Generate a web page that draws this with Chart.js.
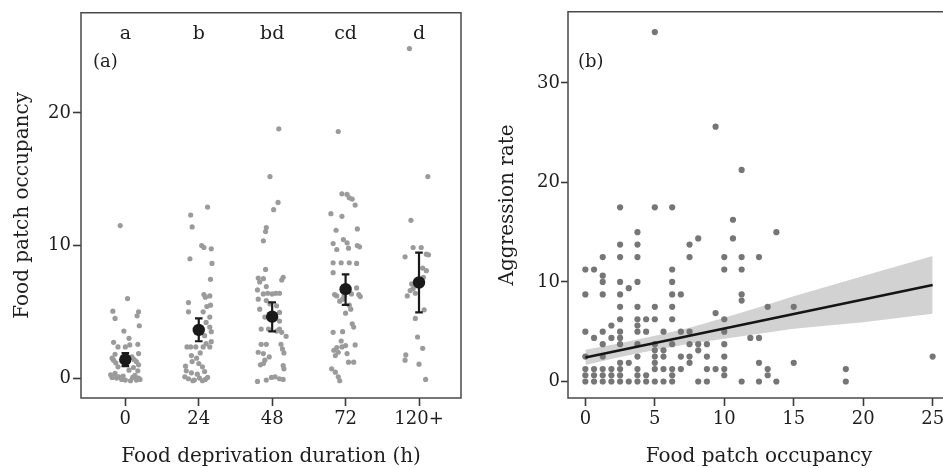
<!DOCTYPE html>
<html><head><meta charset="utf-8">
<script src="https://cdn.jsdelivr.net/npm/chart.js@4.4.0/dist/chart.umd.min.js"></script>
<style>
html,body{margin:0;padding:0;background:#fff;overflow:hidden;width:943px;height:468px;}
#ca{position:absolute;left:0;top:0;}
#cb{position:absolute;left:470px;top:0;}
</style></head><body>
<canvas id="ca" width="470" height="468"></canvas>
<canvas id="cb" width="490" height="468"></canvas>
<script>
// ---------- Panel (a) data ----------
const durationLabels = ['0', '24', '48', '72', '120+'];
const sigLetters = ['a', 'b', 'bd', 'cd', 'd'];
const occ0 = [11.5,6.0,5.05,5.0,4.7,4.5,3.95,3.55,3.0,2.7,2.35,2.35,2.5,2.55,1.85,1.8,1.35,1.15,1.25,1.0,1.6,0.85,0.6,0.25,0.35,0.15,0.05,0.0,-0.15,0.05,0.2,0.1,-0.2,-0.15,-0.1,-0.1,0.0,1.4,1.3,0.55,1.5,0.8];
const jit0 = [-0.07,0.03,-0.17,0.18,0.16,-0.14,0.19,-0.02,0.05,-0.16,-0.10,0.0,0.06,0.17,0.18,-0.14,-0.16,-0.13,0.15,0.18,0.09,-0.10,0.05,-0.20,-0.14,-0.03,0.10,0.18,0.0,-0.18,0.13,-0.09,0.07,0.15,-0.05,0.20,-0.12,0.12,-0.05,0.17,-0.18,0.11];
const occ24 = [12.9,12.3,11.4,10.0,9.85,9.75,9.0,8.65,7.45,6.3,6.2,6.1,5.7,5.5,5.4,5.0,5.0,4.6,4.2,3.85,3.5,3.2,2.75,2.35,2.35,2.35,2.35,2.35,2.6,1.9,1.7,1.5,1.25,1.1,0.9,0.85,0.5,0.55,0.4,0.1,-0.05,-0.15,0.0,-0.2,-0.1,0.3,0.05,-0.2];
const jit24 = [0.12,-0.11,-0.09,0.04,0.07,0.17,-0.12,0.18,0.16,0.07,0.15,0.09,-0.14,0.16,0.11,0.06,-0.14,0.15,0.10,0.15,0.17,0.08,0.17,-0.16,-0.11,-0.04,0.06,0.15,0.10,0.02,-0.10,-0.03,-0.09,0.0,-0.18,0.05,0.08,-0.17,-0.10,-0.19,-0.14,-0.06,0.01,0.05,0.09,-0.02,0.12,-0.08];
const occ48 = [18.8,15.2,13.25,12.7,11.35,11.05,10.35,8.2,7.55,7.5,7.6,7.4,7.25,6.9,6.65,6.35,6.4,6.35,6.4,6.4,5.95,5.85,5.6,5.45,5.2,4.95,4.6,4.3,3.7,3.7,3.7,3.55,3.45,3.15,2.55,2.55,1.95,1.85,2.2,1.9,1.35,1.1,1.6,0.95,0.7,-0.25,-0.15,0.05,0.1,-0.05,-0.1,1.0,2.55];
const jit48 = [0.09,-0.03,0.08,0.02,-0.08,-0.09,-0.12,-0.09,-0.19,-0.12,0.15,0.13,-0.17,-0.08,-0.20,-0.12,-0.06,0.0,0.05,0.10,-0.19,-0.08,-0.03,0.06,-0.17,0.10,-0.10,0.10,-0.05,-0.15,0.10,0.06,0.13,0.19,-0.15,-0.08,-0.19,-0.12,0.14,0.16,-0.10,-0.12,-0.04,0.15,0.16,-0.20,-0.08,-0.01,0.04,0.10,0.15,-0.16,0.12];
const occ72 = [18.6,13.9,13.85,13.6,13.5,13.05,12.4,12.2,11.25,11.15,10.15,10.45,10.2,9.8,10.0,9.9,9.7,8.7,8.7,8.7,8.65,7.95,6.3,6.2,6.2,6.35,6.8,6.3,6.15,5.8,5.5,5.95,4.9,3.45,3.5,4.1,3.85,2.5,2.3,2.1,1.95,2.35,2.45,1.85,1.7,1.2,1.2,0.7,0.45,0.1,-0.2,2.8,5.2];
const jit72 = [-0.10,-0.05,0.02,0.05,0.09,0.13,-0.20,-0.05,0.16,-0.13,-0.17,-0.03,0.02,0.04,0.16,0.19,-0.12,-0.17,-0.06,0.05,0.15,-0.17,-0.15,-0.12,-0.02,0.08,0.15,0.18,0.20,-0.08,0.05,-0.04,0.0,-0.17,-0.04,0.09,0.11,0.13,-0.12,-0.16,-0.10,-0.05,0.0,0.02,-0.14,0.04,0.11,-0.19,-0.14,-0.10,-0.08,-0.06,0.07];
const occ120 = [24.85,15.2,11.9,9.85,9.85,9.15,9.35,9.3,8.3,8.1,7.1,6.75,6.4,6.2,5.15,4.5,3.1,2.25,1.75,1.35,1.05,-0.1,6.6,7.6];
const jit120 = [-0.13,0.12,-0.11,-0.08,0.03,-0.19,0.10,0.13,0.05,0.10,-0.10,-0.08,-0.05,-0.16,0.07,-0.05,-0.02,0.05,-0.18,-0.19,0.0,0.09,-0.12,0.06];
const groupMeans = [1.4, 3.63, 4.63, 6.71, 7.21];
const groupLow = [0.9, 2.78, 3.53, 5.53, 4.96];
const groupHigh = [1.88, 4.5, 5.71, 7.83, 9.46];
const yTicksA = [0, 10, 20];

// ---------- Panel (b) data ----------
const bOccupancy = [
 0,0,0,0,0,0,0,
 0.625,0.625,0.625,0.625,0.625,
 1.25,1.25,1.25,1.25,1.25,1.25,1.25,1.25,1.25,1.25,
 1.875,1.875,1.875,1.875,1.875,
 2.5,2.5,2.5,2.5,2.5,2.5,2.5,2.5,2.5,2.5,2.5,2.5,2.5,2.5,
 3.125,3.125,3.125,
 3.75,3.75,3.75,3.75,3.75,3.75,3.75,3.75,3.75,3.75,3.75,3.75,3.75,
 4.375,4.375,4.375,4.375,
 5,5,5,5,5,5,5,5,5,5,
 5.625,5.625,5.625,5.625,5.625,
 6.25,6.25,6.25,6.25,6.25,6.25,6.25,6.25,6.25,6.25,
 6.875,6.875,6.875,6.875,
 7.5,7.5,7.5,7.5,7.5,7.5,
 8.125,8.125,8.125,8.125,
 8.75,8.75,8.75,8.75,
 9.375,9.375,9.375,
 10,10,10,10,10,10,10,10,
 10.625,10.625,
 11.25,11.25,11.25,11.25,11.25,11.25,
 11.875,
 12.5,12.5,12.5,12.5,
 13.125,13.125,13.125,
 13.75,13.75,
 15,15,
 18.75,18.75,
 25];
const bAggression = [
 0,0.625,1.25,2.5,5,8.75,11.25,
 0,0.625,1.25,4.375,11.25,
 0,0.625,1.25,2.5,3.75,5,8.75,10,10.625,12.5,
 0,0.625,1.25,4.375,5.625,
 0,0.625,1.25,1.875,3.75,4.375,5,6.25,7.5,8.75,10,12.5,13.75,17.5,
 0,1.875,9.375,
 0,0.625,1.25,2.5,3.75,5,5.625,6.25,7.5,10,12.5,13.75,15,
 0,0.625,5,6.25,
 0,1.25,1.875,2.5,3.125,3.75,6.25,7.5,17.5,35.1,
 0,1.25,2.5,3.125,5,
 0,0.625,1.25,3.75,6.25,7.5,8.75,10,11.25,17.5,
 1.25,2.5,5,8.75,
 1.875,2.5,3.75,5,12.5,13.75,
 0,3.125,3.75,14.375,
 0,1.25,2.5,3.75,
 1.25,6.875,25.6,
 0.625,1.25,2.5,3.75,5,6.25,11.25,12.5,
 14.375,16.25,
 0,8.125,8.75,11.25,12.5,21.25,
 4.375,
 0,1.875,4.375,12.5,
 0.625,1.25,7.5,
 0,15,
 1.875,7.5,
 0,1.25,
 2.5];
const fitX = [0, 25];
const fitY = [2.4, 9.7];
const bandX = [0, 2.5, 5, 7.5, 10, 12.5, 15, 20, 25];
const bandLow = [1.65, 2.45, 3.15, 3.8, 4.3, 4.8, 5.3, 5.95, 6.8];
const bandHigh = [3.2, 3.85, 4.6, 5.4, 6.4, 7.45, 8.55, 10.6, 12.6];
const xTicksB = [0, 5, 10, 15, 20, 25];
const yTicksB = [0, 10, 20, 30];

// ---------- styling ----------
const FONT = "'DejaVu Serif', 'Liberation Serif', serif";
const TXT = '#1e1e1e';
const AXC = '#3a3a3a';

function makeFrame(drawRight) {
  return {
    id: 'frame',
    afterDatasetsDraw(chart) {
      const a = chart.chartArea, c = chart.ctx;
      c.save(); c.strokeStyle = '#4a4a4a'; c.lineWidth = 1.5;
      c.beginPath();
      if (drawRight) {
        c.rect(a.left, a.top, a.right - a.left, a.bottom - a.top);
      } else {
        c.moveTo(chart.width, a.top); c.lineTo(a.left, a.top);
        c.lineTo(a.left, a.bottom); c.lineTo(chart.width, a.bottom);
      }
      c.stroke();
      c.restore();
    }
  };
}

function gridCfg(len) {
  return { display: true, drawOnChartArea: false, drawTicks: true, tickLength: len, tickWidth: 1.6, tickColor: AXC };
}

// ---------- Panel (a) ----------
const groups = [[occ0, jit0], [occ24, jit24], [occ48, jit48], [occ72, jit72], [occ120, jit120]];
const rawPts = [];
groups.forEach(([vals, jit], i) => vals.forEach((v, j) => rawPts.push({ x: i + jit[j], y: v })));

const dsA = [
  { type: 'scatter', data: rawPts, pointRadius: 2.6, pointBackgroundColor: '#9b9b9b', pointBorderWidth: 0, order: 5 }
];
groupMeans.forEach((m, i) => {
  dsA.push({ type: 'line', data: [{ x: i, y: groupLow[i] }, { x: i, y: groupHigh[i] }], showLine: true,
    borderColor: '#1a1a1a', borderWidth: 2.2, pointStyle: 'line', pointRadius: 3.8, pointBorderWidth: 2.2,
    pointBorderColor: '#1a1a1a', order: 3 });
});
dsA.push({ type: 'scatter', data: groupMeans.map((m, i) => ({ x: i, y: m })), pointRadius: 6.2,
  pointBackgroundColor: '#1a1a1a', pointBorderWidth: 0, order: 1 });

const lettersPlugin = {
  id: 'letters',
  afterDraw(chart) {
    const c = chart.ctx, xs = chart.scales.x, ys = chart.scales.y;
    c.save(); c.fillStyle = TXT; c.font = "19px " + FONT; c.textAlign = 'center'; c.textBaseline = 'middle';
    sigLetters.forEach((t, i) => c.fillText(t, xs.getPixelForValue(i), ys.getPixelForValue(25.95)));
    c.textAlign = 'left'; c.font = "18px " + FONT;
    c.fillText('(a)', chart.chartArea.left + 12, ys.getPixelForValue(23.8));
    c.restore();
  }
};

new Chart(document.getElementById('ca'), {
  data: { datasets: dsA },
  options: {
    responsive: false, animation: false, devicePixelRatio: 1,
    layout: { padding: { top: 11, right: 9, left: 0, bottom: 0 } },
    plugins: { legend: { display: false }, tooltip: { enabled: false } },
    scales: {
      x: { type: 'linear', min: -0.604, max: 4.572,
        afterBuildTicks: s => { s.ticks = durationLabels.map((_, i) => ({ value: i })); },
        ticks: { callback: v => durationLabels[v], font: { family: FONT, size: 18 }, color: TXT, padding: 3, maxRotation: 0, autoSkip: false },
        grid: gridCfg(8), border: { display: false },
        title: { display: true, text: 'Food deprivation duration (h)', font: { family: FONT, size: 20 }, color: TXT, padding: { top: 0, bottom: -1 } },
        afterFit: s => { s.height = 70; } },
      y: { type: 'linear', min: -1.5, max: 27.55,
        afterBuildTicks: s => { s.ticks = yTicksA.map(v => ({ value: v })); },
        ticks: { font: { family: FONT, size: 18 }, color: TXT, padding: 2 },
        grid: gridCfg(8), border: { display: false },
        title: { display: true, text: 'Food patch occupancy', font: { family: FONT, size: 20 }, color: TXT, padding: { top: 11, bottom: 0 } },
        afterFit: s => { s.width = 81; } }
    }
  },
  plugins: [makeFrame(true), lettersPlugin]
});

// ---------- Panel (b) ----------
const bPts = bOccupancy.map((x, i) => ({ x: x, y: bAggression[i] }));
const labelB = {
  id: 'labelB',
  afterDraw(chart) {
    const c = chart.ctx, ys = chart.scales.y;
    c.save(); c.fillStyle = TXT; c.font = "18px " + FONT; c.textAlign = 'left'; c.textBaseline = 'middle';
    c.fillText('(b)', chart.chartArea.left + 10, ys.getPixelForValue(32.1));
    c.restore();
  }
};

new Chart(document.getElementById('cb'), {
  data: { datasets: [
    { type: 'line', data: bandX.map((x, i) => ({ x: x, y: bandLow[i] })), borderWidth: 0, pointRadius: 0, fill: false, order: 9 },
    { type: 'line', data: bandX.map((x, i) => ({ x: x, y: bandHigh[i] })), borderWidth: 0, pointRadius: 0,
      fill: '-1', backgroundColor: '#d2d2d2', order: 8 },
    { type: 'scatter', data: bPts, pointRadius: 3.1, pointBackgroundColor: '#767676', pointBorderWidth: 0, order: 5 },
    { type: 'line', data: fitX.map((x, i) => ({ x: x, y: fitY[i] })), borderColor: '#151515', borderWidth: 2.6, pointRadius: 0, order: 1 }
  ] },
  options: {
    responsive: false, animation: false, devicePixelRatio: 1,
    layout: { padding: { top: 11, right: 10, left: 0, bottom: 0 } },
    plugins: { legend: { display: false }, tooltip: { enabled: false } },
    scales: {
      x: { type: 'linear', min: -1.25, max: 26.25,
        afterBuildTicks: s => { s.ticks = xTicksB.map(v => ({ value: v })); },
        ticks: { font: { family: FONT, size: 18 }, color: TXT, padding: 3, maxRotation: 0, autoSkip: false },
        grid: gridCfg(8), border: { display: false },
        title: { display: true, text: 'Food patch occupancy', font: { family: FONT, size: 20 }, color: TXT, padding: { top: 0, bottom: -1 } },
        afterFit: s => { s.height = 70; } },
      y: { type: 'linear', min: -1.66, max: 37.14,
        afterBuildTicks: s => { s.ticks = yTicksB.map(v => ({ value: v })); },
        ticks: { font: { family: FONT, size: 18 }, color: TXT, padding: 1 },
        grid: gridCfg(7), border: { display: false },
        title: { display: true, text: 'Aggression rate', font: { family: FONT, size: 20 }, color: TXT, padding: { top: 26, bottom: 0 } },
        afterFit: s => { s.width = 98; } }
    }
  },
  plugins: [makeFrame(false), labelB]
});
</script>
</body></html>
